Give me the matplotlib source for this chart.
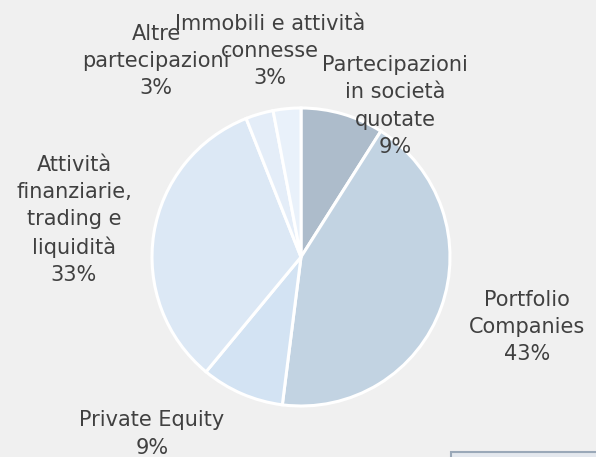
import matplotlib.pyplot as plt
from matplotlib.patches import Rectangle

# data (clockwise from 12 o'clock)
labels = ['Partecipazioni\nin società\nquotate', 'Portfolio\nCompanies', 'Private Equity',
          'Attività\nfinanziarie,\ntrading e\nliquidità', 'Altre\npartecipazioni',
          'Immobili e attività\nconnesse']
shares = [9, 43, 9, 33, 3, 3]
colors = ['#adbccb', '#c2d3e2', '#d3e3f3', '#dce8f5', '#e4edf8', '#e9f1fa']

W, H = 596, 457
fig = plt.figure(figsize=(W / 100, H / 100), dpi=100)
fig.patch.set_facecolor('#f0f0f0')
ax = fig.add_axes([0, 0, 1, 1])
ax.set_facecolor('#f0f0f0')

wedges, texts = ax.pie(shares, labels=[f'{l}\n{v}%' for l, v in zip(labels, shares)],
                       colors=colors, startangle=90, counterclock=False,
                       center=(301, H - 257), radius=149, frame=True,
                       wedgeprops=dict(edgecolor='white', linewidth=2.2),
                       textprops=dict(fontsize=15, color='#404040'))
ax.set_xlim(0, W)
ax.set_ylim(0, H)
ax.set_aspect('equal')
ax.axis('off')

# label centres (pixels from top-left)
label_pos = [(395, 106), (527, 327), (152, 434), (74, 220), (156, 61), (270, 51)]
for t, (x, y) in zip(texts, label_pos):
    t.set_position((x, H - y))
    t.set_ha('center')
    t.set_va('center')
    t.set_multialignment('center')
    t.set_linespacing(1.45)

# partial box at bottom right edge
ax.add_patch(Rectangle((451, -5), 150, 10, facecolor='#e4e8ee', edgecolor='#9aa8b8', linewidth=1.5))

fig.savefig('out.png', dpi=100, facecolor=fig.get_facecolor())
